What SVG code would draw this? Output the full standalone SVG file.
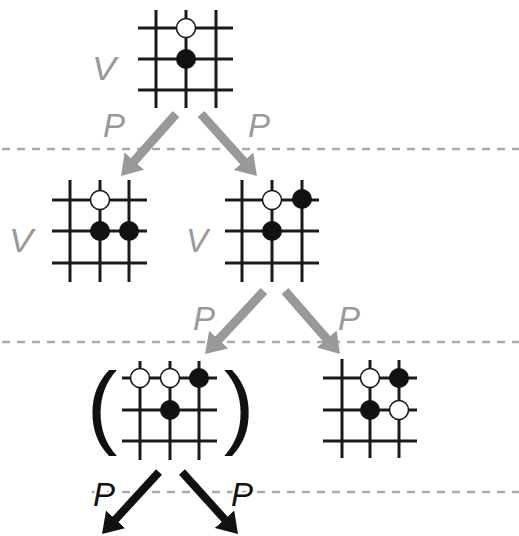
<svg xmlns="http://www.w3.org/2000/svg" width="519" height="536" viewBox="0 0 519 536">
<style>
.g line{stroke:#1a1a1a;stroke-width:3}
.w{fill:#fff;stroke:#1a1a1a;stroke-width:1.6}
.b{fill:#111}
.lbl{font-family:"Liberation Sans",Arial,sans-serif;font-style:italic;font-size:33px;fill:#999}
.lblk{font-family:"Liberation Sans",Arial,sans-serif;font-style:italic;font-size:33px;fill:#111;stroke:#fff;stroke-width:4;paint-order:stroke}
.par{font-family:"Liberation Sans",Arial,sans-serif;font-size:92px;fill:#111;text-anchor:middle}
.dash{stroke:#aaa;stroke-width:2.5;stroke-dasharray:8 7}
.ag{stroke:#999;stroke-width:9;marker-end:url(#hg)}
.ak{stroke:#111;stroke-width:8;marker-end:url(#hk)}
</style>
<defs>
<marker id="hg" markerUnits="userSpaceOnUse" viewBox="0 -13 20 26" refX="5" refY="0" markerWidth="20" markerHeight="26" orient="auto"><path d="M0,-13 L20,0 L0,13 z" fill="#999"/></marker>
<marker id="hk" markerUnits="userSpaceOnUse" viewBox="0 -13 20 26" refX="5" refY="0" markerWidth="20" markerHeight="26" orient="auto"><path d="M0,-13 L20,0 L0,13 z" fill="#111"/></marker>
</defs>
<g id="separators">
<line class="dash" x1="2" y1="149" x2="519" y2="149"/>
<line class="dash" x1="2" y1="342" x2="519" y2="342"/>
<line class="dash" x1="92" y1="492" x2="519" y2="492"/>
</g>
<g id="board1">
<g class="g">
<line x1="156" y1="10" x2="156" y2="108"/><line x1="186" y1="10" x2="186" y2="108"/><line x1="216" y1="10" x2="216" y2="108"/>
<line x1="138" y1="28" x2="233" y2="28"/><line x1="138" y1="59" x2="233" y2="59"/><line x1="138" y1="90" x2="233" y2="90"/>
</g>
<circle class="w" cx="186" cy="28" r="9.5"/><circle class="b" cx="186" cy="59" r="10"/>
<text class="lbl" x="92" y="80" font-size="42" textLength="24" lengthAdjust="spacingAndGlyphs">V</text>
</g>
<g id="board2L">
<g class="g">
<line x1="70" y1="180" x2="70" y2="282"/><line x1="100" y1="180" x2="100" y2="282"/><line x1="129" y1="180" x2="129" y2="282"/>
<line x1="52" y1="200" x2="147" y2="200"/><line x1="52" y1="231" x2="147" y2="231"/><line x1="52" y1="263" x2="147" y2="263"/>
</g>
<circle class="w" cx="100" cy="200" r="9.5"/><circle class="b" cx="100" cy="231" r="10"/><circle class="b" cx="129" cy="231" r="10"/>
<text class="lbl" x="9" y="252" font-size="40" textLength="24" lengthAdjust="spacingAndGlyphs">V</text>
</g>
<g id="board2R">
<g class="g">
<line x1="242" y1="180" x2="242" y2="282"/><line x1="272" y1="180" x2="272" y2="282"/><line x1="302" y1="180" x2="302" y2="282"/>
<line x1="225" y1="200" x2="319" y2="200"/><line x1="225" y1="231" x2="319" y2="231"/><line x1="225" y1="263" x2="319" y2="263"/>
</g>
<circle class="w" cx="272" cy="200" r="9.5"/><circle class="b" cx="302" cy="199" r="10"/><circle class="b" cx="272" cy="231" r="10"/>
<text class="lbl" x="186" y="252" font-size="40" textLength="22" lengthAdjust="spacingAndGlyphs">V</text>
</g>
<g id="board3L">
<g class="g">
<line x1="140" y1="361" x2="140" y2="460"/><line x1="170" y1="361" x2="170" y2="460"/><line x1="199" y1="361" x2="199" y2="460"/>
<line x1="122" y1="378" x2="217" y2="378"/><line x1="122" y1="410" x2="217" y2="410"/><line x1="122" y1="441" x2="217" y2="441"/>
</g>
<circle class="w" cx="140" cy="378" r="9.5"/><circle class="w" cx="170" cy="378" r="9.5"/><circle class="b" cx="199" cy="378" r="10"/><circle class="b" cx="170" cy="410" r="10"/>
<text class="par" x="102" y="437">(</text>
<text class="par" x="239" y="437">)</text>
</g>
<g id="board3R">
<g class="g">
<line x1="342" y1="359" x2="342" y2="458"/><line x1="370" y1="360" x2="370" y2="458"/><line x1="399" y1="360" x2="399" y2="458"/>
<line x1="323" y1="378" x2="417" y2="378"/><line x1="323" y1="410" x2="417" y2="410"/><line x1="323" y1="441" x2="417" y2="441"/>
</g>
<circle class="w" cx="370" cy="378" r="9.5"/><circle class="b" cx="399" cy="378" r="10"/><circle class="b" cx="370" cy="410" r="10"/><circle class="w" cx="399" cy="410" r="9.5"/>
</g>
<g id="connectors">
<line class="ag" x1="176" y1="114" x2="131" y2="164.8"/>
<line class="ag" x1="201" y1="114" x2="246.9" y2="164.9"/>
<line class="ag" x1="264" y1="291" x2="215.3" y2="343.1"/>
<line class="ag" x1="285" y1="291" x2="330.1" y2="342.7"/>
<line class="ak" x1="159" y1="472" x2="112.2" y2="523"/>
<line class="ak" x1="182" y1="472" x2="227.9" y2="522.9"/>
<text class="lbl" x="103" y="137">P</text>
<text class="lbl" x="248" y="137">P</text>
<text class="lbl" x="193" y="330">P</text>
<text class="lbl" x="338" y="330">P</text>
<text class="lblk" x="93" y="506">P</text>
<text class="lblk" x="231" y="506">P</text>
</g>
</svg>
